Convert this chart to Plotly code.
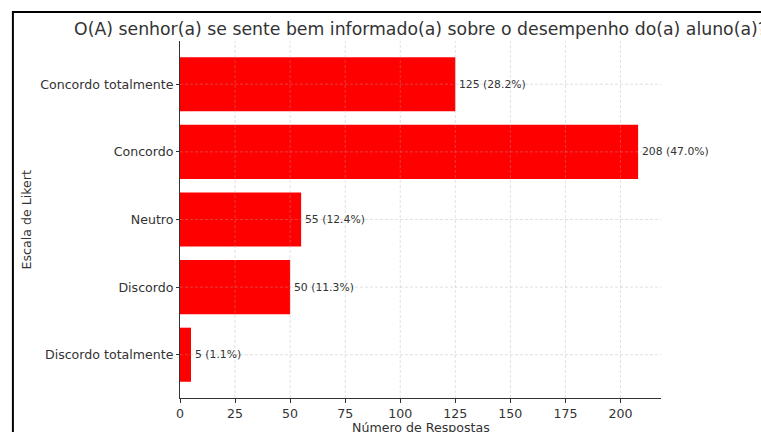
import plotly.graph_objects as go

# Survey responses (Likert scale), listed bottom to top
categories = ["Discordo totalmente", "Discordo", "Neutro", "Concordo", "Concordo totalmente"]
counts = [5, 50, 55, 208, 125]
x_ticks = [0, 25, 50, 75, 100, 125, 150, 175, 200]

title_text = "O(A) senhor(a) se sente bem informado(a) sobre o desempenho do(a) aluno(a)?"
x_title = "Número de Respostas"
y_title = "Escala de Likert"

total = sum(counts)
labels = [f"{c} ({c / total * 100:.1f}%)" for c in counts]

W, H = 761, 432
L, R, T, B = 180, 100.3, 41, 33.7
plot_w = W - L - R
plot_h = H - T - B
FONT = "DejaVu Sans"
TXT = "#333333"
GRID = "rgba(170,170,170,0.45)"

fig = go.Figure()
fig.add_trace(go.Bar(
    x=counts, y=categories, orientation="h", width=0.8,
    marker=dict(color="#ff0000", line=dict(width=0)),
    hoverinfo="skip",
))

# value labels next to the bar ends
annotations = []
for cat, val, lab in zip(categories, counts, labels):
    annotations.append(dict(
        x=val, y=cat, xref="x", yref="y", text=lab, showarrow=False,
        xanchor="left", yanchor="middle", xshift=2,
        font=dict(family=FONT, size=10.8, color=TXT),
    ))

# axis titles
annotations.append(dict(
    x=(27 - L) / plot_w, y=0.5, xref="paper", yref="paper", text=y_title,
    textangle=-90, showarrow=False, xanchor="center", yanchor="middle",
    font=dict(family=FONT, size=12.6, color=TXT),
))
annotations.append(dict(
    x=0.5, y=-(427.5 - (H - B)) / plot_h, xref="paper", yref="paper", text=x_title,
    showarrow=False, xanchor="center", yanchor="middle",
    font=dict(family=FONT, size=12.6, color=TXT),
))

# dashed grid drawn over the bars
shapes = []
for t in x_ticks[1:]:
    shapes.append(dict(type="line", xref="x", yref="paper", x0=t, x1=t, y0=0, y1=1,
                       line=dict(color=GRID, width=0.8, dash="3px,2px"), layer="above"))
for cat in categories:
    shapes.append(dict(type="line", xref="paper", yref="y", x0=0, x1=1, y0=cat, y1=cat,
                       line=dict(color=GRID, width=0.8, dash="3px,2px"), layer="above"))

# outer black frame
shapes.append(dict(type="rect", xref="paper", yref="paper",
                   x0=(13 - L) / plot_w, x1=2.0,
                   y0=-1.0, y1=1 + (T - 12) / plot_h,
                   line=dict(color="black", width=2), fillcolor="rgba(0,0,0,0)",
                   layer="above"))

fig.update_layout(
    width=W, height=H,
    margin=dict(l=L, r=R, t=T, b=B, pad=0),
    paper_bgcolor="white", plot_bgcolor="white",
    showlegend=False,
    title=dict(text=title_text, x=0.5, xref="paper", xanchor="center",
               y=1 - 29 / H, yref="container", yanchor="middle",
               font=dict(family=FONT, size=17.3, color=TXT)),
    xaxis=dict(range=[0, 218.4], tickvals=x_ticks, showgrid=False, zeroline=False,
               showline=True, linecolor=TXT, linewidth=1,
               ticks="outside", ticklen=4, tickcolor=TXT, tickwidth=1,
               tickfont=dict(family=FONT, size=12.6, color=TXT)),
    yaxis=dict(type="category", categoryorder="array", categoryarray=categories,
               range=[-0.64, 4.64], showgrid=False, zeroline=False,
               showline=True, linecolor=TXT, linewidth=1,
               ticks="outside", ticklen=3, tickcolor=TXT, tickwidth=1,
               tickfont=dict(family=FONT, size=12.6, color=TXT)),
    annotations=annotations,
    shapes=shapes,
    bargap=0.2,
)

fig.write_html("out.html")
